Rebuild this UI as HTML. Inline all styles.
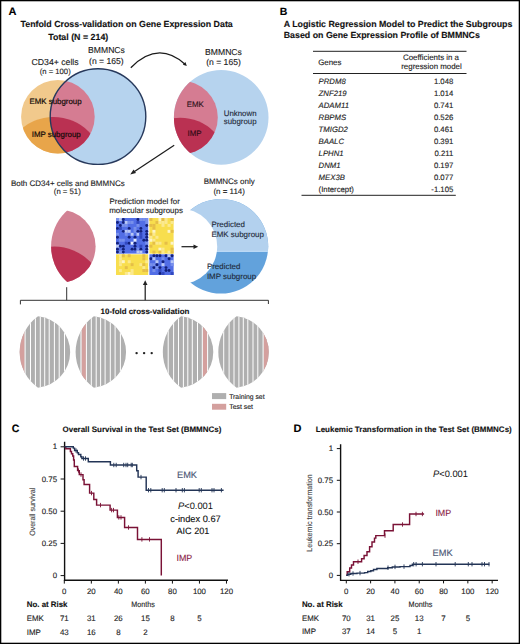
<!DOCTYPE html>
<html><head><meta charset="utf-8"><style>
html,body{margin:0;padding:0;background:#fff;width:520px;height:644px;overflow:hidden}
svg{display:block}
text{font-family:"Liberation Sans",sans-serif;text-rendering:geometricPrecision}
</style></head><body>
<svg width="520" height="644" viewBox="0 0 520 644">
<rect width="520" height="644" fill="#fff"/>
<text x="8.5" y="15" font-size="11" font-weight="bold" fill="#000" stroke="#000" stroke-width="0.12">A</text>
<text x="20.5" y="27" font-size="8.84" font-weight="bold" fill="#111" stroke="#111" stroke-width="0.12">Tenfold Cross-validation on Gene Expression Data</text>
<text x="48.3" y="40" font-size="8.84" font-weight="bold" fill="#111" stroke="#111" stroke-width="0.12">Total (N = 214)</text>
<defs>
<clipPath id="cS1"><circle cx="57.9" cy="116.7" r="36.8"/></clipPath>
<clipPath id="cB1"><circle cx="98.0" cy="116.6" r="47.8"/></clipPath>
<clipPath id="cD1"><circle cx="53.5" cy="167.0" r="50.0"/></clipPath>
</defs>
<circle cx="57.9" cy="116.7" r="36.8" fill="#f1c98c"/>
<g clip-path="url(#cS1)"><circle cx="53.5" cy="167.0" r="50.0" fill="#e8a54a"/></g>
<circle cx="98.0" cy="116.6" r="47.8" fill="#b6d3ee"/>
<g clip-path="url(#cB1)"><circle cx="57.9" cy="116.7" r="36.8" fill="#d57c92"/><g clip-path="url(#cS1)"><circle cx="53.5" cy="167.0" r="50.0" fill="#ba3152"/></g></g>
<circle cx="98.0" cy="116.6" r="47.8" fill="none" stroke="#27395c" stroke-width="1.4"/>
<text x="55.5" y="103.9" font-size="7.9" text-anchor="middle" fill="#140c08" stroke="#140c08" stroke-width="0.2">EMK subgroup</text>
<text x="56.2" y="137.3" font-size="7.9" text-anchor="middle" fill="#140a08" stroke="#140a08" stroke-width="0.2">IMP subgroup</text>
<text x="55.1" y="64.9" font-size="8.7" text-anchor="middle" fill="#222" stroke="#222" stroke-width="0.12">CD34+ cells</text>
<text x="55.2" y="74.2" font-size="7.7" text-anchor="middle" fill="#222" stroke="#222" stroke-width="0.12">(n = 100)</text>
<text x="106.5" y="53.2" font-size="8.6" text-anchor="middle" fill="#222" stroke="#222" stroke-width="0.12">BMMNCs</text>
<text x="106.4" y="63.5" font-size="8.6" text-anchor="middle" fill="#222" stroke="#222" stroke-width="0.12">(n = 165)</text>
<defs>
<clipPath id="cB2"><circle cx="221.2" cy="117.4" r="47.3"/></clipPath>
<clipPath id="cS2"><circle cx="181.0" cy="117.4" r="36.8"/></clipPath>
</defs>
<circle cx="221.2" cy="117.4" r="47.3" fill="#b6d3ee"/>
<g clip-path="url(#cB2)"><circle cx="181.0" cy="117.4" r="36.8" fill="#d57c92"/><g clip-path="url(#cS2)"><circle cx="180.2" cy="165.4" r="47.7" fill="#ba3152"/></g></g>
<text x="195.2" y="106.7" font-size="7.9" text-anchor="middle" fill="#2a1018" stroke="#2a1018" stroke-width="0.12">EMK</text>
<text x="194.5" y="136.3" font-size="7.9" text-anchor="middle" fill="#2a0a14" stroke="#2a0a14" stroke-width="0.12">IMP</text>
<text x="223.8" y="115.8" font-size="7.85" fill="#1e2a3a" stroke="#1e2a3a" stroke-width="0.12">Unknown</text>
<text x="223.8" y="124.2" font-size="7.85" fill="#1e2a3a" stroke="#1e2a3a" stroke-width="0.12">subgroup</text>
<text x="223.5" y="54.8" font-size="8.6" text-anchor="middle" fill="#222" stroke="#222" stroke-width="0.12">BMMNCs</text>
<text x="223.5" y="64.8" font-size="8.6" text-anchor="middle" fill="#222" stroke="#222" stroke-width="0.12">(n = 165)</text>
<path d="M130.8,67.7 Q158,40 185,64.2" fill="none" stroke="#1a1a1a" stroke-width="1.25"/>
<path d="M186.8,65.9 L182.9,64.8 L185.4,62.0 Z" fill="#1a1a1a"/>
<path d="M174.2,145.2 L133,172.5" stroke="#1a1a1a" stroke-width="1.2" fill="none"/>
<path d="M130.2,174.4 L133.6,169.4 L136,173 Z" fill="#222"/>
<text x="67.8" y="185.5" font-size="7.99" text-anchor="middle" fill="#222" stroke="#222" stroke-width="0.12">Both CD34+ cells and BMMNCs</text>
<text x="67.3" y="194.4" font-size="7.77" text-anchor="middle" fill="#222" stroke="#222" stroke-width="0.12">(n = 51)</text>
<defs>
<clipPath id="cB3"><circle cx="98.9" cy="246.2" r="47.8"/></clipPath>
<clipPath id="cS3"><circle cx="58.8" cy="246.3" r="36.8"/></clipPath>
</defs>
<g clip-path="url(#cB3)"><circle cx="58.8" cy="246.3" r="36.8" fill="#d28294"/><g clip-path="url(#cS3)"><circle cx="54.4" cy="296.6" r="50.0" fill="#ba3152"/></g></g>
<text x="109.6" y="203.5" font-size="7.9" fill="#222" stroke="#222" stroke-width="0.12">Prediction model for</text>
<text x="109.2" y="213.0" font-size="7.95" fill="#222" stroke="#222" stroke-width="0.12">molecular subgroups</text>
<rect x="116.0" y="218.0" width="32.20" height="35.60" fill="#526ee6"/>
<rect x="116.00" y="218.00" width="2.93" height="2.97" fill="#7890ec"/>
<circle cx="117.46" cy="222.45" r="1.46" fill="#13207a"/>
<circle cx="117.46" cy="228.38" r="1.46" fill="#13207a"/>
<rect x="116.00" y="232.83" width="2.93" height="2.97" fill="#7890ec"/>
<circle cx="117.46" cy="237.28" r="1.46" fill="#13207a"/>
<circle cx="117.46" cy="243.22" r="1.46" fill="#13207a"/>
<rect x="116.00" y="244.70" width="2.93" height="2.97" fill="#b9c8f6"/>
<circle cx="117.46" cy="249.15" r="1.46" fill="#13207a"/>
<circle cx="117.46" cy="252.12" r="1.46" fill="#13207a"/>
<rect x="118.93" y="218.00" width="2.93" height="2.97" fill="#b9c8f6"/>
<circle cx="120.39" cy="225.42" r="1.46" fill="#13207a"/>
<rect x="118.93" y="226.90" width="2.93" height="2.97" fill="#3249c0"/>
<rect x="118.93" y="238.77" width="2.93" height="2.97" fill="#7890ec"/>
<circle cx="120.39" cy="246.18" r="1.46" fill="#13207a"/>
<rect x="118.93" y="250.63" width="2.93" height="2.97" fill="#7890ec"/>
<circle cx="123.32" cy="219.48" r="1.46" fill="#13207a"/>
<circle cx="123.32" cy="222.45" r="1.46" fill="#13207a"/>
<rect x="121.85" y="223.93" width="2.93" height="2.97" fill="#7890ec"/>
<circle cx="123.32" cy="231.35" r="1.46" fill="#13207a"/>
<rect x="121.85" y="238.77" width="2.93" height="2.97" fill="#7890ec"/>
<circle cx="123.32" cy="246.18" r="1.46" fill="#13207a"/>
<circle cx="123.32" cy="249.15" r="1.46" fill="#13207a"/>
<circle cx="123.32" cy="252.12" r="1.46" fill="#13207a"/>
<rect x="124.78" y="220.97" width="2.93" height="2.97" fill="#b9c8f6"/>
<rect x="124.78" y="223.93" width="2.93" height="2.97" fill="#7890ec"/>
<rect x="124.78" y="229.87" width="2.93" height="2.97" fill="#b9c8f6"/>
<rect x="124.78" y="232.83" width="2.93" height="2.97" fill="#7890ec"/>
<rect x="124.78" y="241.73" width="2.93" height="2.97" fill="#3249c0"/>
<rect x="127.71" y="220.97" width="2.93" height="2.97" fill="#7890ec"/>
<circle cx="129.17" cy="228.38" r="1.46" fill="#13207a"/>
<rect x="127.71" y="229.87" width="2.93" height="2.97" fill="#b9c8f6"/>
<circle cx="129.17" cy="237.28" r="1.46" fill="#13207a"/>
<circle cx="129.17" cy="243.22" r="1.46" fill="#13207a"/>
<rect x="130.64" y="220.97" width="2.93" height="2.97" fill="#7890ec"/>
<rect x="130.64" y="232.83" width="2.93" height="2.97" fill="#b9c8f6"/>
<rect x="130.64" y="241.73" width="2.93" height="2.97" fill="#e6ecfd"/>
<circle cx="132.10" cy="249.15" r="1.46" fill="#13207a"/>
<rect x="133.56" y="226.90" width="2.93" height="2.97" fill="#7890ec"/>
<rect x="133.56" y="229.87" width="2.93" height="2.97" fill="#7890ec"/>
<circle cx="135.03" cy="237.28" r="1.46" fill="#13207a"/>
<rect x="133.56" y="238.77" width="2.93" height="2.97" fill="#e6ecfd"/>
<circle cx="135.03" cy="243.22" r="1.46" fill="#13207a"/>
<circle cx="135.03" cy="246.18" r="1.46" fill="#13207a"/>
<circle cx="135.03" cy="249.15" r="1.46" fill="#13207a"/>
<circle cx="137.95" cy="219.48" r="1.46" fill="#13207a"/>
<rect x="136.49" y="220.97" width="2.93" height="2.97" fill="#3249c0"/>
<rect x="136.49" y="223.93" width="2.93" height="2.97" fill="#7890ec"/>
<circle cx="137.95" cy="231.35" r="1.46" fill="#13207a"/>
<rect x="136.49" y="232.83" width="2.93" height="2.97" fill="#b9c8f6"/>
<rect x="136.49" y="247.67" width="2.93" height="2.97" fill="#7890ec"/>
<rect x="136.49" y="250.63" width="2.93" height="2.97" fill="#b9c8f6"/>
<rect x="139.42" y="218.00" width="2.93" height="2.97" fill="#7890ec"/>
<circle cx="140.88" cy="228.38" r="1.46" fill="#13207a"/>
<circle cx="140.88" cy="231.35" r="1.46" fill="#13207a"/>
<rect x="139.42" y="232.83" width="2.93" height="2.97" fill="#3249c0"/>
<rect x="139.42" y="235.80" width="2.93" height="2.97" fill="#3249c0"/>
<rect x="139.42" y="244.70" width="2.93" height="2.97" fill="#3249c0"/>
<circle cx="140.88" cy="249.15" r="1.46" fill="#13207a"/>
<rect x="139.42" y="250.63" width="2.93" height="2.97" fill="#b9c8f6"/>
<rect x="142.35" y="218.00" width="2.93" height="2.97" fill="#7890ec"/>
<circle cx="143.81" cy="240.25" r="1.46" fill="#13207a"/>
<rect x="145.27" y="218.00" width="2.93" height="2.97" fill="#7890ec"/>
<rect x="145.27" y="220.97" width="2.93" height="2.97" fill="#7890ec"/>
<circle cx="146.74" cy="225.42" r="1.46" fill="#13207a"/>
<circle cx="146.74" cy="231.35" r="1.46" fill="#13207a"/>
<circle cx="146.74" cy="234.32" r="1.46" fill="#13207a"/>
<circle cx="146.74" cy="237.28" r="1.46" fill="#13207a"/>
<circle cx="146.74" cy="240.25" r="1.46" fill="#13207a"/>
<rect x="145.27" y="241.73" width="2.93" height="2.97" fill="#7890ec"/>
<circle cx="146.74" cy="246.18" r="1.46" fill="#13207a"/>
<circle cx="146.74" cy="249.15" r="1.46" fill="#13207a"/>
<circle cx="146.74" cy="252.12" r="1.46" fill="#13207a"/>
<rect x="149.4" y="218.0" width="24.20" height="35.60" fill="#f8de4e"/>
<rect x="149.40" y="218.00" width="3.02" height="2.97" fill="#e5be48"/>
<rect x="149.40" y="223.93" width="3.02" height="2.97" fill="#e5be48"/>
<rect x="149.40" y="232.83" width="3.02" height="2.97" fill="#e5be48"/>
<rect x="149.40" y="235.80" width="3.02" height="2.97" fill="#fbe98f"/>
<rect x="149.40" y="238.77" width="3.02" height="2.97" fill="#fdf4c8"/>
<rect x="149.40" y="244.70" width="3.02" height="2.97" fill="#e5be48"/>
<rect x="152.43" y="223.93" width="3.02" height="2.97" fill="#e5be48"/>
<rect x="152.43" y="226.90" width="3.02" height="2.97" fill="#e5be48"/>
<rect x="152.43" y="229.87" width="3.02" height="2.97" fill="#fdf4c8"/>
<rect x="152.43" y="232.83" width="3.02" height="2.97" fill="#fbe98f"/>
<rect x="152.43" y="238.77" width="3.02" height="2.97" fill="#fbe98f"/>
<rect x="152.43" y="241.73" width="3.02" height="2.97" fill="#e5be48"/>
<rect x="152.43" y="250.63" width="3.02" height="2.97" fill="#e5be48"/>
<rect x="155.45" y="220.97" width="3.02" height="2.97" fill="#e5be48"/>
<rect x="155.45" y="235.80" width="3.02" height="2.97" fill="#fbe98f"/>
<rect x="155.45" y="241.73" width="3.02" height="2.97" fill="#fbe98f"/>
<rect x="158.47" y="218.00" width="3.02" height="2.97" fill="#fdf4c8"/>
<rect x="158.47" y="220.97" width="3.02" height="2.97" fill="#fbe98f"/>
<rect x="158.47" y="241.73" width="3.02" height="2.97" fill="#fbe98f"/>
<rect x="158.47" y="247.67" width="3.02" height="2.97" fill="#fdf4c8"/>
<rect x="158.47" y="250.63" width="3.02" height="2.97" fill="#e5be48"/>
<rect x="161.50" y="218.00" width="3.02" height="2.97" fill="#e5be48"/>
<rect x="161.50" y="220.97" width="3.02" height="2.97" fill="#fbe98f"/>
<rect x="161.50" y="223.93" width="3.02" height="2.97" fill="#fbe98f"/>
<rect x="161.50" y="247.67" width="3.02" height="2.97" fill="#fbe98f"/>
<rect x="161.50" y="250.63" width="3.02" height="2.97" fill="#fbe98f"/>
<rect x="164.53" y="218.00" width="3.02" height="2.97" fill="#fbe98f"/>
<rect x="164.53" y="220.97" width="3.02" height="2.97" fill="#fbe98f"/>
<rect x="164.53" y="241.73" width="3.02" height="2.97" fill="#e5be48"/>
<rect x="167.55" y="223.93" width="3.02" height="2.97" fill="#fbe98f"/>
<rect x="167.55" y="229.87" width="3.02" height="2.97" fill="#fdf4c8"/>
<rect x="167.55" y="250.63" width="3.02" height="2.97" fill="#fbe98f"/>
<rect x="170.57" y="218.00" width="3.02" height="2.97" fill="#e5be48"/>
<rect x="170.57" y="220.97" width="3.02" height="2.97" fill="#fbe98f"/>
<rect x="170.57" y="229.87" width="3.02" height="2.97" fill="#e5be48"/>
<rect x="170.57" y="241.73" width="3.02" height="2.97" fill="#fdf4c8"/>
<rect x="170.57" y="247.67" width="3.02" height="2.97" fill="#e5be48"/>
<rect x="170.57" y="250.63" width="3.02" height="2.97" fill="#e5be48"/>
<rect x="116.0" y="254.3" width="32.20" height="20.70" fill="#f8de4e"/>
<rect x="118.93" y="254.30" width="2.93" height="2.96" fill="#fbe98f"/>
<rect x="118.93" y="257.26" width="2.93" height="2.96" fill="#fbe98f"/>
<rect x="118.93" y="260.21" width="2.93" height="2.96" fill="#fbe98f"/>
<rect x="118.93" y="263.17" width="2.93" height="2.96" fill="#fbe98f"/>
<rect x="118.93" y="269.09" width="2.93" height="2.96" fill="#fbe98f"/>
<rect x="121.85" y="254.30" width="2.93" height="2.96" fill="#e5be48"/>
<rect x="121.85" y="260.21" width="2.93" height="2.96" fill="#fdf4c8"/>
<rect x="124.78" y="266.13" width="2.93" height="2.96" fill="#e5be48"/>
<rect x="124.78" y="272.04" width="2.93" height="2.96" fill="#fbe98f"/>
<rect x="127.71" y="254.30" width="2.93" height="2.96" fill="#e5be48"/>
<rect x="127.71" y="260.21" width="2.93" height="2.96" fill="#fbe98f"/>
<rect x="127.71" y="272.04" width="2.93" height="2.96" fill="#fdf4c8"/>
<rect x="130.64" y="263.17" width="2.93" height="2.96" fill="#e5be48"/>
<rect x="130.64" y="269.09" width="2.93" height="2.96" fill="#fbe98f"/>
<rect x="130.64" y="272.04" width="2.93" height="2.96" fill="#fbe98f"/>
<rect x="139.42" y="263.17" width="2.93" height="2.96" fill="#fbe98f"/>
<rect x="142.35" y="254.30" width="2.93" height="2.96" fill="#e5be48"/>
<rect x="142.35" y="257.26" width="2.93" height="2.96" fill="#e5be48"/>
<rect x="142.35" y="263.17" width="2.93" height="2.96" fill="#e5be48"/>
<rect x="142.35" y="266.13" width="2.93" height="2.96" fill="#fbe98f"/>
<rect x="142.35" y="269.09" width="2.93" height="2.96" fill="#e5be48"/>
<rect x="145.27" y="260.21" width="2.93" height="2.96" fill="#fbe98f"/>
<rect x="145.27" y="269.09" width="2.93" height="2.96" fill="#e5be48"/>
<rect x="149.4" y="254.3" width="24.20" height="20.70" fill="#526ee6"/>
<circle cx="150.91" cy="258.74" r="1.48" fill="#13207a"/>
<rect x="149.40" y="263.17" width="3.02" height="2.96" fill="#7890ec"/>
<circle cx="153.94" cy="255.78" r="1.48" fill="#13207a"/>
<rect x="152.43" y="257.26" width="3.02" height="2.96" fill="#b9c8f6"/>
<rect x="152.43" y="263.17" width="3.02" height="2.96" fill="#7890ec"/>
<circle cx="153.94" cy="267.61" r="1.48" fill="#13207a"/>
<rect x="152.43" y="269.09" width="3.02" height="2.96" fill="#7890ec"/>
<circle cx="156.96" cy="255.78" r="1.48" fill="#13207a"/>
<rect x="155.45" y="260.21" width="3.02" height="2.96" fill="#b9c8f6"/>
<circle cx="156.96" cy="264.65" r="1.48" fill="#13207a"/>
<rect x="155.45" y="266.13" width="3.02" height="2.96" fill="#7890ec"/>
<circle cx="159.99" cy="255.78" r="1.48" fill="#13207a"/>
<circle cx="159.99" cy="267.61" r="1.48" fill="#13207a"/>
<rect x="158.47" y="269.09" width="3.02" height="2.96" fill="#3249c0"/>
<circle cx="159.99" cy="273.52" r="1.48" fill="#13207a"/>
<rect x="161.50" y="257.26" width="3.02" height="2.96" fill="#7890ec"/>
<circle cx="163.01" cy="261.69" r="1.48" fill="#13207a"/>
<rect x="161.50" y="263.17" width="3.02" height="2.96" fill="#b9c8f6"/>
<rect x="161.50" y="272.04" width="3.02" height="2.96" fill="#3249c0"/>
<circle cx="166.04" cy="255.78" r="1.48" fill="#13207a"/>
<circle cx="166.04" cy="267.61" r="1.48" fill="#13207a"/>
<circle cx="166.04" cy="270.56" r="1.48" fill="#13207a"/>
<rect x="167.55" y="254.30" width="3.02" height="2.96" fill="#b9c8f6"/>
<circle cx="169.06" cy="258.74" r="1.48" fill="#13207a"/>
<circle cx="169.06" cy="270.56" r="1.48" fill="#13207a"/>
<circle cx="172.09" cy="255.78" r="1.48" fill="#13207a"/>
<rect x="170.57" y="260.21" width="3.02" height="2.96" fill="#b9c8f6"/>
<rect x="170.57" y="263.17" width="3.02" height="2.96" fill="#7890ec"/>
<rect x="170.57" y="272.04" width="3.02" height="2.96" fill="#3249c0"/>
<path d="M181.5,246.7 L194.5,246.7" stroke="#1a1a1a" stroke-width="1.2" fill="none"/>
<path d="M198.2,246.7 L193.5,244.4 L193.5,249 Z" fill="#222"/>
<path d="M145.2,300.3 L145.2,284" stroke="#1a1a1a" stroke-width="1.2" fill="none"/>
<path d="M145.2,280.2 L142.9,285 L147.5,285 Z" fill="#222"/>
<defs>
<mask id="mCr"><rect x="0" y="0" width="520" height="644" fill="#fff"/><circle cx="179.2" cy="246.4" r="38.0" fill="#000"/></mask>
<clipPath id="cTop"><rect x="0" y="0" width="520" height="252.0"/></clipPath>
<clipPath id="cBand"><rect x="0" y="250.7" width="520" height="1.3"/></clipPath>
</defs>
<g mask="url(#mCr)"><circle cx="220.9" cy="246.3" r="47.3" fill="#62a2dc"/><g clip-path="url(#cTop)"><circle cx="220.9" cy="246.3" r="47.3" fill="#b3d1ee"/></g><g clip-path="url(#cBand)"><circle cx="220.9" cy="246.3" r="47.3" fill="#bad9f6"/></g></g>
<text x="229.2" y="184.3" font-size="8.0" text-anchor="middle" fill="#222" stroke="#222" stroke-width="0.12">BMMNCs only</text>
<text x="229.2" y="193.7" font-size="7.96" text-anchor="middle" fill="#222" stroke="#222" stroke-width="0.12">(n = 114)</text>
<text x="211.4" y="226.8" font-size="7.95" fill="#1e2a3a" stroke="#1e2a3a" stroke-width="0.12">Predicted</text>
<text x="211.4" y="236.7" font-size="7.95" fill="#1e2a3a" stroke="#1e2a3a" stroke-width="0.12">EMK subgroup</text>
<text x="206.9" y="268.8" font-size="7.95" fill="#1e2a3a" stroke="#1e2a3a" stroke-width="0.12">Predicted</text>
<text x="206.9" y="279.0" font-size="7.95" fill="#1e2a3a" stroke="#1e2a3a" stroke-width="0.12">IMP subgroup</text>
<path d="M66.7,287.2 L66.7,300.3" stroke="#333" stroke-width="1" fill="none"/>
<path d="M20.4,304.4 L20.4,300.3 L268.4,300.3 L268.4,304" stroke="#333" stroke-width="1" fill="none"/>
<text x="100.6" y="314.4" font-size="7.91" font-weight="bold" fill="#111" stroke="#111" stroke-width="0.12">10-fold cross-validation</text>
<defs><clipPath id="cv1"><path d="M38.0,316.3 A44.07,44.07 0 0 0 38.0,387.8 A35.95,35.95 0 0 0 38.0,316.3 Z"/></clipPath></defs>
<g clip-path="url(#cv1)">
<rect x="18.7" y="315.3" width="53" height="73.5" fill="#afafaf"/>
<rect x="18.70" y="315.3" width="5.90" height="73.5" fill="#d4a09e"/>
<rect x="24.60" y="315.3" width="1.0" height="73.5" fill="#fff"/>
<rect x="30.00" y="315.3" width="1.0" height="73.5" fill="#fff"/>
<rect x="34.90" y="315.3" width="1.0" height="73.5" fill="#fff"/>
<rect x="39.80" y="315.3" width="1.0" height="73.5" fill="#fff"/>
<rect x="44.20" y="315.3" width="1.0" height="73.5" fill="#fff"/>
<rect x="48.70" y="315.3" width="1.0" height="73.5" fill="#fff"/>
<rect x="53.90" y="315.3" width="1.0" height="73.5" fill="#fff"/>
<rect x="58.70" y="315.3" width="1.0" height="73.5" fill="#fff"/>
<rect x="64.00" y="315.3" width="1.0" height="73.5" fill="#fff"/>
</g>
<defs><clipPath id="cv2"><path d="M93.89999999999999,316.3 A44.07,44.07 0 0 0 93.89999999999999,387.8 A35.95,35.95 0 0 0 93.89999999999999,316.3 Z"/></clipPath></defs>
<g clip-path="url(#cv2)">
<rect x="74.6" y="315.3" width="53" height="73.5" fill="#afafaf"/>
<rect x="81.50" y="315.3" width="4.40" height="73.5" fill="#d4a09e"/>
<rect x="80.50" y="315.3" width="1.0" height="73.5" fill="#fff"/>
<rect x="85.90" y="315.3" width="1.0" height="73.5" fill="#fff"/>
<rect x="90.80" y="315.3" width="1.0" height="73.5" fill="#fff"/>
<rect x="95.70" y="315.3" width="1.0" height="73.5" fill="#fff"/>
<rect x="100.10" y="315.3" width="1.0" height="73.5" fill="#fff"/>
<rect x="104.60" y="315.3" width="1.0" height="73.5" fill="#fff"/>
<rect x="109.80" y="315.3" width="1.0" height="73.5" fill="#fff"/>
<rect x="114.60" y="315.3" width="1.0" height="73.5" fill="#fff"/>
<rect x="119.90" y="315.3" width="1.0" height="73.5" fill="#fff"/>
</g>
<defs><clipPath id="cv3"><path d="M181.10000000000002,316.3 A44.07,44.07 0 0 0 181.10000000000002,387.8 A35.95,35.95 0 0 0 181.10000000000002,316.3 Z"/></clipPath></defs>
<g clip-path="url(#cv3)">
<rect x="161.8" y="315.3" width="53" height="73.5" fill="#afafaf"/>
<rect x="202.80" y="315.3" width="4.30" height="73.5" fill="#d4a09e"/>
<rect x="167.70" y="315.3" width="1.0" height="73.5" fill="#fff"/>
<rect x="173.10" y="315.3" width="1.0" height="73.5" fill="#fff"/>
<rect x="178.00" y="315.3" width="1.0" height="73.5" fill="#fff"/>
<rect x="182.90" y="315.3" width="1.0" height="73.5" fill="#fff"/>
<rect x="187.30" y="315.3" width="1.0" height="73.5" fill="#fff"/>
<rect x="191.80" y="315.3" width="1.0" height="73.5" fill="#fff"/>
<rect x="197.00" y="315.3" width="1.0" height="73.5" fill="#fff"/>
<rect x="201.80" y="315.3" width="1.0" height="73.5" fill="#fff"/>
<rect x="207.10" y="315.3" width="1.0" height="73.5" fill="#fff"/>
</g>
<defs><clipPath id="cv4"><path d="M236.60000000000002,316.3 A44.07,44.07 0 0 0 236.60000000000002,387.8 A35.95,35.95 0 0 0 236.60000000000002,316.3 Z"/></clipPath></defs>
<g clip-path="url(#cv4)">
<rect x="217.3" y="315.3" width="53" height="73.5" fill="#afafaf"/>
<rect x="263.60" y="315.3" width="6.70" height="73.5" fill="#d4a09e"/>
<rect x="223.20" y="315.3" width="1.0" height="73.5" fill="#fff"/>
<rect x="228.60" y="315.3" width="1.0" height="73.5" fill="#fff"/>
<rect x="233.50" y="315.3" width="1.0" height="73.5" fill="#fff"/>
<rect x="238.40" y="315.3" width="1.0" height="73.5" fill="#fff"/>
<rect x="242.80" y="315.3" width="1.0" height="73.5" fill="#fff"/>
<rect x="247.30" y="315.3" width="1.0" height="73.5" fill="#fff"/>
<rect x="252.50" y="315.3" width="1.0" height="73.5" fill="#fff"/>
<rect x="257.30" y="315.3" width="1.0" height="73.5" fill="#fff"/>
<rect x="262.60" y="315.3" width="1.0" height="73.5" fill="#fff"/>
</g>
<circle cx="136.6" cy="353.1" r="1.2" fill="#222"/>
<circle cx="144.1" cy="353.1" r="1.2" fill="#222"/>
<circle cx="151.7" cy="353.1" r="1.2" fill="#222"/>
<rect x="212" y="393.1" width="14.2" height="6" fill="#afafaf"/>
<text x="229.2" y="398.6" font-size="6.82" fill="#222" stroke="#222" stroke-width="0.12">Training set</text>
<rect x="212" y="403.8" width="14.2" height="5.9" fill="#d4a09e"/>
<text x="229.2" y="409.2" font-size="6.91" fill="#222" stroke="#222" stroke-width="0.12">Test set</text>
<text x="279.8" y="15" font-size="10.5" font-weight="bold" fill="#000" stroke="#000" stroke-width="0.12">B</text>
<text x="283.7" y="27" font-size="8.83" font-weight="bold" fill="#111" stroke="#111" stroke-width="0.12">A Logistic Regression Model to Predict the Subgroups</text>
<text x="283.7" y="37.5" font-size="8.83" font-weight="bold" fill="#111" stroke="#111" stroke-width="0.12">Based on Gene Expression Profile of BMMNCs</text>
<path d="M313,51.3 H466.5 M313,73.5 H466.5 M301.5,195.3 H455.8" stroke="#222" stroke-width="1" fill="none"/>
<text x="318.2" y="64.5" font-size="7.9" fill="#222" stroke="#222" stroke-width="0.12">Genes</text>
<text x="431" y="59.7" font-size="7.9" text-anchor="middle" fill="#222" stroke="#222" stroke-width="0.12">Coefficients in a</text>
<text x="431.5" y="69.2" font-size="7.9" text-anchor="middle" fill="#222" stroke="#222" stroke-width="0.12">regression model</text>
<text x="318.6" y="84.20" font-size="7.75" font-style="italic" fill="#222" stroke="#222" stroke-width="0.12">PRDM8</text>
<text x="453.3" y="84.20" font-size="7.75" text-anchor="end" fill="#222" stroke="#222" stroke-width="0.12">1.048</text>
<text x="318.6" y="96.20" font-size="7.75" font-style="italic" fill="#222" stroke="#222" stroke-width="0.12">ZNF219</text>
<text x="453.3" y="96.20" font-size="7.75" text-anchor="end" fill="#222" stroke="#222" stroke-width="0.12">1.014</text>
<text x="318.6" y="108.20" font-size="7.75" font-style="italic" fill="#222" stroke="#222" stroke-width="0.12">ADAM11</text>
<text x="453.3" y="108.20" font-size="7.75" text-anchor="end" fill="#222" stroke="#222" stroke-width="0.12">0.741</text>
<text x="318.6" y="120.20" font-size="7.75" font-style="italic" fill="#222" stroke="#222" stroke-width="0.12">RBPMS</text>
<text x="453.3" y="120.20" font-size="7.75" text-anchor="end" fill="#222" stroke="#222" stroke-width="0.12">0.526</text>
<text x="318.6" y="132.20" font-size="7.75" font-style="italic" fill="#222" stroke="#222" stroke-width="0.12">TMIGD2</text>
<text x="453.3" y="132.20" font-size="7.75" text-anchor="end" fill="#222" stroke="#222" stroke-width="0.12">0.461</text>
<text x="318.6" y="144.20" font-size="7.75" font-style="italic" fill="#222" stroke="#222" stroke-width="0.12">BAALC</text>
<text x="453.3" y="144.20" font-size="7.75" text-anchor="end" fill="#222" stroke="#222" stroke-width="0.12">0.391</text>
<text x="318.6" y="156.20" font-size="7.75" font-style="italic" fill="#222" stroke="#222" stroke-width="0.12">LPHN1</text>
<text x="453.3" y="156.20" font-size="7.75" text-anchor="end" fill="#222" stroke="#222" stroke-width="0.12">0.211</text>
<text x="318.6" y="168.20" font-size="7.75" font-style="italic" fill="#222" stroke="#222" stroke-width="0.12">DNM1</text>
<text x="453.3" y="168.20" font-size="7.75" text-anchor="end" fill="#222" stroke="#222" stroke-width="0.12">0.197</text>
<text x="318.6" y="180.20" font-size="7.75" font-style="italic" fill="#222" stroke="#222" stroke-width="0.12">MEX3B</text>
<text x="453.3" y="180.20" font-size="7.75" text-anchor="end" fill="#222" stroke="#222" stroke-width="0.12">0.077</text>
<text x="318.6" y="192.20" font-size="7.75" fill="#222" stroke="#222" stroke-width="0.12">(Intercept)</text>
<text x="453.3" y="192.20" font-size="7.75" text-anchor="end" fill="#222" stroke="#222" stroke-width="0.12">-1.105</text>
<text x="11.8" y="432.2" font-size="10.6" font-weight="bold" fill="#000" stroke="#000" stroke-width="0.12">C</text>
<text x="62.5" y="431.7" font-size="7.98" font-weight="bold" fill="#111" stroke="#111" stroke-width="0.12">Overall Survival in the Test Set (BMMNCs)</text>
<path d="M64.6,441.8 V580.2 H228" stroke="#111" stroke-width="1.4" fill="none"/>
<path d="M60.6,446.8 H64" stroke="#111" stroke-width="1" fill="none"/>
<text x="57.0" y="449.4" font-size="7.86" text-anchor="end" fill="#222" stroke="#222" stroke-width="0.12">1</text>
<path d="M60.6,479.0 H64" stroke="#111" stroke-width="1" fill="none"/>
<text x="57.0" y="481.6" font-size="7.86" text-anchor="end" fill="#222" stroke="#222" stroke-width="0.12">0.75</text>
<path d="M60.6,511.2 H64" stroke="#111" stroke-width="1" fill="none"/>
<text x="57.0" y="513.8" font-size="7.86" text-anchor="end" fill="#222" stroke="#222" stroke-width="0.12">0.50</text>
<path d="M60.6,543.4 H64" stroke="#111" stroke-width="1" fill="none"/>
<text x="57.0" y="546.0" font-size="7.86" text-anchor="end" fill="#222" stroke="#222" stroke-width="0.12">0.25</text>
<path d="M60.6,575.6 H64" stroke="#111" stroke-width="1" fill="none"/>
<text x="57.0" y="578.2" font-size="7.86" text-anchor="end" fill="#222" stroke="#222" stroke-width="0.12">0</text>
<path d="M64.30,580 V583.6" stroke="#111" stroke-width="1" fill="none"/>
<text x="64.30" y="593.6" font-size="7.86" text-anchor="middle" fill="#222" stroke="#222" stroke-width="0.12">0</text>
<path d="M91.33,580 V583.6" stroke="#111" stroke-width="1" fill="none"/>
<text x="91.33" y="593.6" font-size="7.86" text-anchor="middle" fill="#222" stroke="#222" stroke-width="0.12">20</text>
<path d="M118.36,580 V583.6" stroke="#111" stroke-width="1" fill="none"/>
<text x="118.36" y="593.6" font-size="7.86" text-anchor="middle" fill="#222" stroke="#222" stroke-width="0.12">40</text>
<path d="M145.39,580 V583.6" stroke="#111" stroke-width="1" fill="none"/>
<text x="145.39" y="593.6" font-size="7.86" text-anchor="middle" fill="#222" stroke="#222" stroke-width="0.12">60</text>
<path d="M172.42,580 V583.6" stroke="#111" stroke-width="1" fill="none"/>
<text x="172.42" y="593.6" font-size="7.86" text-anchor="middle" fill="#222" stroke="#222" stroke-width="0.12">80</text>
<path d="M199.45,580 V583.6" stroke="#111" stroke-width="1" fill="none"/>
<text x="199.45" y="593.6" font-size="7.86" text-anchor="middle" fill="#222" stroke="#222" stroke-width="0.12">100</text>
<path d="M226.48,580 V583.6" stroke="#111" stroke-width="1" fill="none"/>
<text x="226.48" y="593.6" font-size="7.86" text-anchor="middle" fill="#222" stroke="#222" stroke-width="0.12">120</text>
<text x="35.2" y="511.8" font-size="7.7" text-anchor="middle" fill="#444" stroke="#444" stroke-width="0.12" textLength="48" lengthAdjust="spacingAndGlyphs" transform="rotate(-90 35.2 511.8)">Overall survival</text>
<path d="M64.6,446.8 H65.8 V448.7 H70.4 V451.5 H71.5 V453.8 H72.7 V456 H73.6 V460 H74.3 V466.5 H77.6 V470.6 H79.3 V474.6 H83.0 V479.8 H84.1 V484.4 H89.6 V493.1 H93.8 V499.4 H96.6 V505.1 H110.1 V510.1 H117.4 V517.4 H124.6 V527.5 H137.5 V539.4 H161.3 V575.6" stroke="#7a1236" stroke-width="1.45" fill="none"/>
<path d="M64.6,446.8 H73.3 V448.1 H74.6 V450.5 H77.3 V452.7 H78.5 V454.4 H80.8 V456.7 H81.9 V458.5 H88.3 V461.7 H110.4 V465 H136.7 V470.8 H138.1 V477.1 H146.2 V490.2 H223.6" stroke="#233456" stroke-width="1.45" fill="none"/>
<path d="M100.5,502.90000000000003 V507.3 M111.6,507.90000000000003 V512.3000000000001 M113.5,507.90000000000003 V512.3000000000001 M118.8,515.1999999999999 V519.6 M121,515.1999999999999 V519.6 M128.5,525.3 V529.7 M141.9,537.1999999999999 V541.6 M149.5,537.1999999999999 V541.6 M78.5,468.40000000000003 V472.8 M81,472.40000000000003 V476.8 M91.5,490.90000000000003 V495.3" stroke="#7a1236" stroke-width="0.9" fill="none"/>
<path d="M76,448.3 V452.7 M83.5,456.3 V460.7 M85.5,456.3 V460.7 M113.8,462.8 V467.2 M116.2,462.8 V467.2 M123.7,462.8 V467.2 M126,462.8 V467.2 M127.7,462.8 V467.2 M131.2,462.8 V467.2 M132.3,462.8 V467.2 M141,474.90000000000003 V479.3 M148.5,488.0 V492.4 M150.8,488.0 V492.4 M162.2,488.0 V492.4 M164.3,488.0 V492.4 M176,488.0 V492.4 M182.3,488.0 V492.4 M184.4,488.0 V492.4 M199.2,488.0 V492.4 M201.3,488.0 V492.4 M212,488.0 V492.4 M214,488.0 V492.4 M221.4,488.0 V492.4" stroke="#233456" stroke-width="0.9" fill="none"/>
<text x="187" y="478.1" font-size="9.28" text-anchor="middle" fill="#4a5675" stroke="#4a5675" stroke-width="0.12">EMK</text>
<text x="184.4" y="560.6" font-size="8.9" text-anchor="middle" fill="#8a2345" stroke="#8a2345" stroke-width="0.12">IMP</text>
<text x="178" y="509.2" font-size="9.3" fill="#111"><tspan font-style="italic">P</tspan>&lt;0.001</text>
<text x="195.5" y="521.9" font-size="9.27" text-anchor="middle" fill="#111" stroke="#111" stroke-width="0.12">c-index 0.67</text>
<text x="192.9" y="534.2" font-size="9.13" text-anchor="middle" fill="#111" stroke="#111" stroke-width="0.12">AIC 201</text>
<text x="26.8" y="607.0" font-size="7.89" font-weight="bold" fill="#111" stroke="#111" stroke-width="0.12">No. at Risk</text>
<text x="131.3" y="607.0" font-size="8.0" fill="#222" stroke="#222" stroke-width="0.12" textLength="23.6" lengthAdjust="spacingAndGlyphs">Months</text>
<text x="26.8" y="621.3" font-size="7.89" fill="#222" stroke="#222" stroke-width="0.12">EMK</text>
<text x="26.8" y="635.0" font-size="7.89" fill="#222" stroke="#222" stroke-width="0.12">IMP</text>
<text x="64.30" y="621.3" font-size="7.89" text-anchor="middle" fill="#222" stroke="#222" stroke-width="0.12">71</text>
<text x="91.33" y="621.3" font-size="7.89" text-anchor="middle" fill="#222" stroke="#222" stroke-width="0.12">31</text>
<text x="118.36" y="621.3" font-size="7.89" text-anchor="middle" fill="#222" stroke="#222" stroke-width="0.12">26</text>
<text x="145.39" y="621.3" font-size="7.89" text-anchor="middle" fill="#222" stroke="#222" stroke-width="0.12">15</text>
<text x="172.42" y="621.3" font-size="7.89" text-anchor="middle" fill="#222" stroke="#222" stroke-width="0.12">8</text>
<text x="199.45" y="621.3" font-size="7.89" text-anchor="middle" fill="#222" stroke="#222" stroke-width="0.12">5</text>
<text x="64.30" y="635.0" font-size="7.89" text-anchor="middle" fill="#222" stroke="#222" stroke-width="0.12">43</text>
<text x="91.33" y="635.0" font-size="7.89" text-anchor="middle" fill="#222" stroke="#222" stroke-width="0.12">16</text>
<text x="118.36" y="635.0" font-size="7.89" text-anchor="middle" fill="#222" stroke="#222" stroke-width="0.12">8</text>
<text x="145.39" y="635.0" font-size="7.89" text-anchor="middle" fill="#222" stroke="#222" stroke-width="0.12">2</text>
<text x="293.6" y="432.2" font-size="11" font-weight="bold" fill="#000" stroke="#000" stroke-width="0.12">D</text>
<text x="315.8" y="431.8" font-size="7.99" font-weight="bold" fill="#111" stroke="#111" stroke-width="0.12">Leukemic Transformation in the Test Set (BMMNCs)</text>
<path d="M340.6,444.3 V580.4 H498" stroke="#111" stroke-width="1.4" fill="none"/>
<path d="M336.8,448.6 H340" stroke="#111" stroke-width="1" fill="none"/>
<text x="333.0" y="451.2" font-size="7.86" text-anchor="end" fill="#222" stroke="#222" stroke-width="0.12">1</text>
<path d="M336.8,480.3 H340" stroke="#111" stroke-width="1" fill="none"/>
<text x="333.0" y="482.9" font-size="7.86" text-anchor="end" fill="#222" stroke="#222" stroke-width="0.12">0.75</text>
<path d="M336.8,512.0 H340" stroke="#111" stroke-width="1" fill="none"/>
<text x="333.0" y="514.6" font-size="7.86" text-anchor="end" fill="#222" stroke="#222" stroke-width="0.12">0.50</text>
<path d="M336.8,543.7 H340" stroke="#111" stroke-width="1" fill="none"/>
<text x="333.0" y="546.3" font-size="7.86" text-anchor="end" fill="#222" stroke="#222" stroke-width="0.12">0.25</text>
<path d="M336.8,575.4 H340" stroke="#111" stroke-width="1" fill="none"/>
<text x="333.0" y="578.0" font-size="7.86" text-anchor="end" fill="#222" stroke="#222" stroke-width="0.12">0</text>
<path d="M346.30,580.2 V583.4" stroke="#111" stroke-width="1" fill="none"/>
<text x="346.30" y="594.1" font-size="7.86" text-anchor="middle" fill="#222" stroke="#222" stroke-width="0.12">0</text>
<path d="M370.61,580.2 V583.4" stroke="#111" stroke-width="1" fill="none"/>
<text x="370.61" y="594.1" font-size="7.86" text-anchor="middle" fill="#222" stroke="#222" stroke-width="0.12">20</text>
<path d="M394.92,580.2 V583.4" stroke="#111" stroke-width="1" fill="none"/>
<text x="394.92" y="594.1" font-size="7.86" text-anchor="middle" fill="#222" stroke="#222" stroke-width="0.12">40</text>
<path d="M419.23,580.2 V583.4" stroke="#111" stroke-width="1" fill="none"/>
<text x="419.23" y="594.1" font-size="7.86" text-anchor="middle" fill="#222" stroke="#222" stroke-width="0.12">60</text>
<path d="M443.54,580.2 V583.4" stroke="#111" stroke-width="1" fill="none"/>
<text x="443.54" y="594.1" font-size="7.86" text-anchor="middle" fill="#222" stroke="#222" stroke-width="0.12">80</text>
<path d="M467.85,580.2 V583.4" stroke="#111" stroke-width="1" fill="none"/>
<text x="467.85" y="594.1" font-size="7.86" text-anchor="middle" fill="#222" stroke="#222" stroke-width="0.12">100</text>
<path d="M492.16,580.2 V583.4" stroke="#111" stroke-width="1" fill="none"/>
<text x="492.16" y="594.1" font-size="7.86" text-anchor="middle" fill="#222" stroke="#222" stroke-width="0.12">120</text>
<text x="311.9" y="513.0" font-size="7.7" text-anchor="middle" fill="#444" stroke="#444" stroke-width="0.12" textLength="77.4" lengthAdjust="spacingAndGlyphs" transform="rotate(-90 311.9 513.0)">Leukemic transformation</text>
<path d="M346.3,575.2 H347.2 V571.7 H349.7 V568.0 H351.5 V565.0 H353.5 V561.7 H361.6 V558.8 H364.1 V555.5 H367 V551.8 H369.6 V546.8 H372 V541.9 H374.5 V538.1 H375.8 V535.6 H384.5 V530.7 H393.2 V524.5 H409.6 V514.0 H424.1" stroke="#7a1236" stroke-width="1.45" fill="none"/>
<path d="M346.3,575.2 H347.7 V574.2 H350.8 V573.5 H357 V573.1 H364.6 V572.6 H367.7 V571.5 H370.8 V570.8 H373.5 V569.5 H376.9 V568.5 H387.7 V567.7 H392.3 V566.9 H400 V566.6 H410 V565.5 H412.4 V564.2 H489.4" stroke="#233456" stroke-width="1.45" fill="none"/>
<path d="M402.5,522.3 V526.7 M416,511.8 V516.2 M422.4,511.8 V516.2 M358,559.5 V563.9000000000001 M385,533.4 V537.8000000000001" stroke="#7a1236" stroke-width="0.9" fill="none"/>
<path d="M349,572.0 V576.4000000000001 M353,571.3 V575.7 M360,570.9 V575.3000000000001 M388,565.5 V569.9000000000001 M395,564.6999999999999 V569.1 M404,564.4 V568.8000000000001 M413.7,562.0 V566.4000000000001 M416.1,562.0 V566.4000000000001 M422.4,562.0 V566.4000000000001 M436,562.0 V566.4000000000001 M455.2,562.0 V566.4000000000001 M468.3,562.0 V566.4000000000001 M472,562.0 V566.4000000000001 M482,562.0 V566.4000000000001 M484.5,562.0 V566.4000000000001 M489,562.0 V566.4000000000001" stroke="#233456" stroke-width="0.9" fill="none"/>
<text x="433" y="476.5" font-size="9.3" fill="#111"><tspan font-style="italic">P</tspan>&lt;0.001</text>
<text x="443.3" y="516.3" font-size="8.9" text-anchor="middle" fill="#8a2345" stroke="#8a2345" stroke-width="0.12">IMP</text>
<text x="442.6" y="555.5" font-size="9.28" text-anchor="middle" fill="#4a5675" stroke="#4a5675" stroke-width="0.12">EMK</text>
<text x="301.9" y="606.5" font-size="7.89" font-weight="bold" fill="#111" stroke="#111" stroke-width="0.12">No. at Risk</text>
<text x="408.6" y="606.8" font-size="8.0" fill="#222" stroke="#222" stroke-width="0.12" textLength="23.8" lengthAdjust="spacingAndGlyphs">Months</text>
<text x="301.9" y="620.7" font-size="7.89" fill="#222" stroke="#222" stroke-width="0.12">EMK</text>
<text x="301.9" y="634.2" font-size="7.89" fill="#222" stroke="#222" stroke-width="0.12">IMP</text>
<text x="346.30" y="620.7" font-size="7.89" text-anchor="middle" fill="#222" stroke="#222" stroke-width="0.12">70</text>
<text x="370.61" y="620.7" font-size="7.89" text-anchor="middle" fill="#222" stroke="#222" stroke-width="0.12">31</text>
<text x="394.92" y="620.7" font-size="7.89" text-anchor="middle" fill="#222" stroke="#222" stroke-width="0.12">25</text>
<text x="419.23" y="620.7" font-size="7.89" text-anchor="middle" fill="#222" stroke="#222" stroke-width="0.12">13</text>
<text x="443.54" y="620.7" font-size="7.89" text-anchor="middle" fill="#222" stroke="#222" stroke-width="0.12">7</text>
<text x="467.85" y="620.7" font-size="7.89" text-anchor="middle" fill="#222" stroke="#222" stroke-width="0.12">5</text>
<text x="346.30" y="634.2" font-size="7.89" text-anchor="middle" fill="#222" stroke="#222" stroke-width="0.12">37</text>
<text x="370.61" y="634.2" font-size="7.89" text-anchor="middle" fill="#222" stroke="#222" stroke-width="0.12">14</text>
<text x="394.92" y="634.2" font-size="7.89" text-anchor="middle" fill="#222" stroke="#222" stroke-width="0.12">5</text>
<text x="419.23" y="634.2" font-size="7.89" text-anchor="middle" fill="#222" stroke="#222" stroke-width="0.12">1</text>
<rect x="0.65" y="0.65" width="518.7" height="642.7" fill="none" stroke="#000" stroke-width="1.3"/>
</svg>
</body></html>
